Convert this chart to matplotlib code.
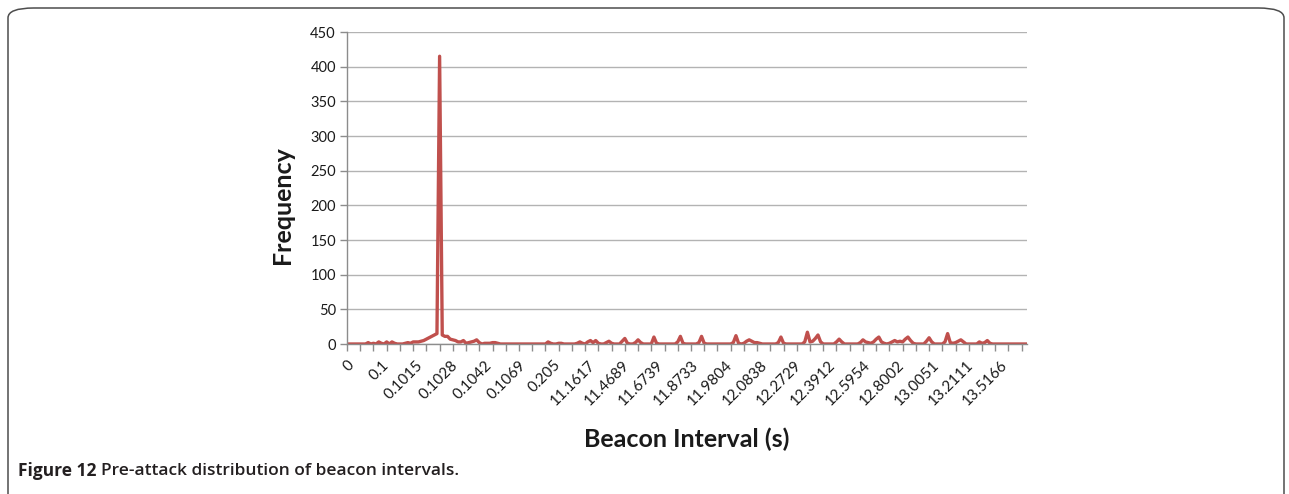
import numpy as np
import matplotlib.pyplot as plt
from matplotlib.patches import FancyBboxPatch

# Beacon interval categories shown on the axis (every 13th category is labelled)
interval_labels = ["0", "0.1", "0.1015", "0.1028", "0.1042", "0.1069", "0.205",
                   "11.1617", "11.4689", "11.6739", "11.8733", "11.9804", "12.0838",
                   "12.2729", "12.3912", "12.5954", "12.8002", "13.0051", "13.2111",
                   "13.5166"]

# Frequency per beacon-interval category
frequency = [
    0, 0, 0, 0, 0, 0, 0, 0, 2, 0,
    1, 0, 3, 1, 0, 3, 0, 3, 1, 0,
    0, 0, 1, 2, 1, 3, 3, 3, 4, 5,
    7, 9, 11, 13, 15, 415, 13, 11, 11, 7,
    6, 5, 3, 3, 5, 1, 2, 3, 4, 6,
    2, 0, 1, 1, 1, 2, 2, 1, 0, 0,
    0, 0, 0, 0, 0, 0, 0, 0, 0, 0,
    0, 0, 0, 0, 0, 0, 3, 1, 0, 0,
    1, 1, 0, 0, 0, 0, 0, 1, 3, 1,
    0, 3, 5, 2, 5, 1, 0, 0, 2, 4,
    1, 0, 0, 0, 4, 8, 1, 0, 0, 2,
    6, 2, 0, 0, 0, 0, 10, 1, 0, 0,
    0, 0, 0, 0, 0, 3, 11, 1, 0, 0,
    0, 0, 0, 2, 11, 1, 0, 0, 0, 0,
    0, 0, 0, 0, 0, 0, 2, 12, 1, 0,
    1, 4, 6, 4, 2, 2, 1, 0, 0, 0,
    0, 0, 0, 2, 10, 1, 0, 0, 0, 0,
    0, 0, 0, 3, 17, 3, 4, 8, 13, 3,
    0, 0, 0, 0, 0, 3, 7, 3, 0, 0,
    0, 0, 0, 0, 2, 6, 3, 2, 1, 3,
    7, 10, 3, 1, 0, 1, 3, 5, 3, 4,
    3, 7, 10, 5, 1, 0, 0, 0, 0, 4,
    9, 3, 0, 0, 0, 0, 3, 15, 2, 1,
    2, 4, 6, 3, 0, 0, 0, 0, 0, 3,
    1, 2, 5, 1, 0, 0, 0, 0, 0, 0,
    0, 0, 0, 0, 0, 0, 0, 0,
]

label_every = 13
tick_every = 5
y_ticks = [0, 50, 100, 150, 200, 250, 300, 350, 400, 450]

W, H = 1289, 494
fig = plt.figure(figsize=(W / 100, H / 100), dpi=100)

# rounded frame around the figure (open at the bottom)
frame = FancyBboxPatch((8 / W, -0.2), (1284 - 8) / W, (H - 8) / H + 0.2,
                       boxstyle="round,pad=0,rounding_size=0.02",
                       transform=fig.transFigure, fill=False,
                       edgecolor="#4d4d4d", linewidth=1.1)
fig.patches.append(frame)

ax = fig.add_axes([347 / W, 150 / H, 680 / W, 312 / H])
x = np.arange(len(frequency))
ax.plot(x, frequency, color="#C0504D", linewidth=2.4, solid_joinstyle="round")

ax.set_xlim(0, len(frequency) - 1)
ax.set_ylim(0, 450)
ax.set_yticks(y_ticks)
ax.set_yticklabels([str(v) for v in y_ticks], fontfamily="Lato", fontsize=10.5, color="#1a1a1a")
ax.yaxis.grid(True, color="#b3b3b3", linewidth=1)
ax.set_axisbelow(True)

# tick marks every 5 categories, labels every 13
ax.xaxis.remove_overlapping_locs = False
ax.set_xticks(np.arange(0, len(frequency), tick_every))
ax.set_xticklabels([])
label_pos = np.arange(len(interval_labels)) * label_every
ax.set_xticks(label_pos, minor=True)
ax.set_xticklabels(interval_labels, minor=True, rotation=45, ha="right", va="top",
                   rotation_mode="anchor", fontfamily="Lato", fontsize=11, color="#1a1a1a")
ax.tick_params(axis="x", which="major", length=5, color="#8c8c8c", width=1)
ax.tick_params(axis="x", which="minor", length=0, pad=10)
ax.tick_params(axis="y", length=5, color="#8c8c8c", width=1, pad=3)

for s in ["top", "right"]:
    ax.spines[s].set_visible(False)
for s in ["left", "bottom"]:
    ax.spines[s].set_color("#8c8c8c")
    ax.spines[s].set_linewidth(1)

fig.text(283 / W, 1 - 205 / H, "Frequency", rotation=90, ha="center", va="center",
         fontfamily="Lato", fontweight="bold", fontsize=18, color="#1a1a1a")
fig.text(687 / W, 1 - 439 / H, "Beacon Interval (s)", ha="center", va="center",
         fontfamily="Lato", fontweight="bold", fontsize=18, color="#1a1a1a")

# caption: bold figure number followed by the title
t1 = fig.text(18 / W, 1 - 471 / H, "Figure 12", ha="left", va="center",
              fontfamily="Open Sans", fontweight="bold", fontsize=12.5, color="#231f20")
fig.canvas.draw()
bb = t1.get_window_extent()
fig.text((bb.x1 + 5) / W, 1 - 471 / H, "Pre-attack distribution of beacon intervals.",
         ha="left", va="center", fontfamily="Open Sans", fontweight="semibold",
         fontsize=12.5, color="#231f20")

fig.savefig("out.png", dpi=100)
